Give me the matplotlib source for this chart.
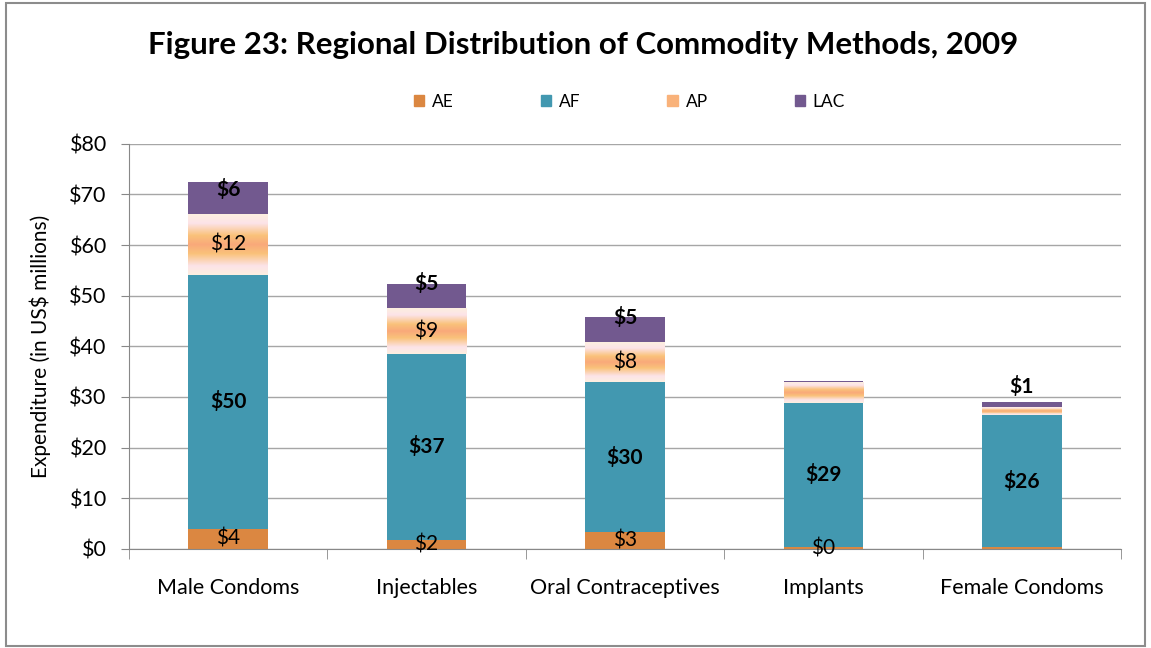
import numpy as np
import matplotlib.pyplot as plt
from matplotlib.colors import LinearSegmentedColormap
from matplotlib.patches import Rectangle

plt.rcParams['font.family'] = ['Lato', 'DejaVu Sans']

categories = ['Male Condoms', 'Injectables', 'Oral Contraceptives', 'Implants', 'Female Condoms']
ae = [3.95, 1.8, 3.3, 0.3, 0.3]
af = [50.2, 36.7, 29.6, 28.6, 26.2]
ap = [12.0, 8.9, 7.9, 4.1, 1.4]
lac = [6.3, 5.0, 4.9, 0.2, 1.2]
# which segments carry a value label
ae_show = [True, True, True, True, False]
ap_show = [True, True, True, False, False]
lac_show = [True, True, True, False, True]
lac_dy = [-5, 0, 0, 0, 11]   # Excel nudged these labels a bit

c_ae = '#DB8741'
c_af = '#4298B0'
c_lac = '#72598F'
ap_grad = LinearSegmentedColormap.from_list('ap', [
    (0.0, '#FDEFE0'), (0.15, '#FCE3E8'), (0.35, '#FAC27A'),
    (0.5, '#F9A97A'), (0.65, '#FAC27A'), (0.85, '#FCE3E8'), (1.0, '#FDEFE0')])

fig = plt.figure(figsize=(11.51, 6.48), dpi=100)
ax = fig.add_axes([0.112, 0.153, 0.862, 0.625])

x = np.arange(len(categories))
w = 0.4
ae_a, af_a, ap_a, lac_a = map(np.array, (ae, af, ap, lac))

b_ae = ax.bar(x, ae_a, w, color=c_ae, label='AE', zorder=2)
b_af = ax.bar(x, af_a, w, bottom=ae_a, color=c_af, label='AF', zorder=2)
b_ap = ax.bar(x, ap_a, w, bottom=ae_a + af_a, color='#F9B27A', label='AP', zorder=2)
b_lac = ax.bar(x, lac_a, w, bottom=ae_a + af_a + ap_a, color=c_lac, label='LAC', zorder=2)

# gradient fill for the AP segments
grad = np.linspace(0, 1, 256).reshape(-1, 1)
for p in b_ap:
    x0, y0 = p.get_x(), p.get_y()
    ax.imshow(grad, cmap=ap_grad, aspect='auto', zorder=2.5,
              extent=(x0, x0 + p.get_width(), y0, y0 + p.get_height()))
    p.set_alpha(0)

def seg_labels(bars, vals, show, bold, dys=None):
    for i, (p, v) in enumerate(zip(bars, vals)):
        if not show[i]:
            continue
        cy = p.get_y() + p.get_height() / 2
        dy = 0
        if dys is not None:
            cy = p.get_y() + p.get_height()
            dy = dys[i]
        ax.annotate('$%d' % round(v), (p.get_x() + p.get_width() / 2, cy),
                    xytext=(0, dy), textcoords='offset points',
                    ha='center', va='center', fontsize=15,
                    fontweight='bold' if bold else 'normal', zorder=4)

seg_labels(b_ae, ae, ae_show, False)
seg_labels(b_af, af, [True] * 5, True)
seg_labels(b_ap, ap, ap_show, False)
seg_labels(b_lac, lac, lac_show, True, lac_dy)

ax.set_xlim(-0.5, len(categories) - 0.5)
ax.set_ylim(0, 80)
ax.set_yticks(np.arange(0, 81, 10))
ax.set_yticklabels(['$%d' % v for v in range(0, 81, 10)], fontsize=15.5)
ax.set_xticks(x)
ax.set_xticklabels(categories, fontsize=15.5)
ax.set_xticks(np.arange(-0.5, len(categories), 1), minor=True)
ax.tick_params(axis='x', which='major', length=0, pad=21)
ax.tick_params(axis='x', which='minor', length=7, color='#888888')
ax.tick_params(axis='y', length=6, color='#888888', pad=10)
ax.grid(axis='y', color='#A6A6A6', lw=1, zorder=0)
for s in ['top', 'right']:
    ax.spines[s].set_visible(False)
for s in ['left', 'bottom']:
    ax.spines[s].set_color('#888888')
ax.set_ylabel('Expenditure (in US$ millions)', fontsize=15, labelpad=13)

fig.text(0.507, 0.93, 'Figure 23: Regional Distribution of Commodity Methods, 2009',
         ha='center', va='center', fontsize=22.5, fontweight='bold')

handles = [Rectangle((0, 0), 1, 1, color=c) for c in (c_ae, c_af, '#F9B27A', c_lac)]
fig.legend(handles, ['AE', 'AF', 'AP', 'LAC'], loc='center', bbox_to_anchor=(0.547, 0.843),
           ncol=4, frameon=False, fontsize=12.5, handlelength=0.6, handleheight=0.6,
           handletextpad=0.45, columnspacing=5.0)

fig.patches.append(Rectangle((0.005, 0.003), 0.99, 0.992, transform=fig.transFigure,
                             fill=False, edgecolor='#8C8C8C', lw=1.5))

fig.savefig('out.png', dpi=100)
